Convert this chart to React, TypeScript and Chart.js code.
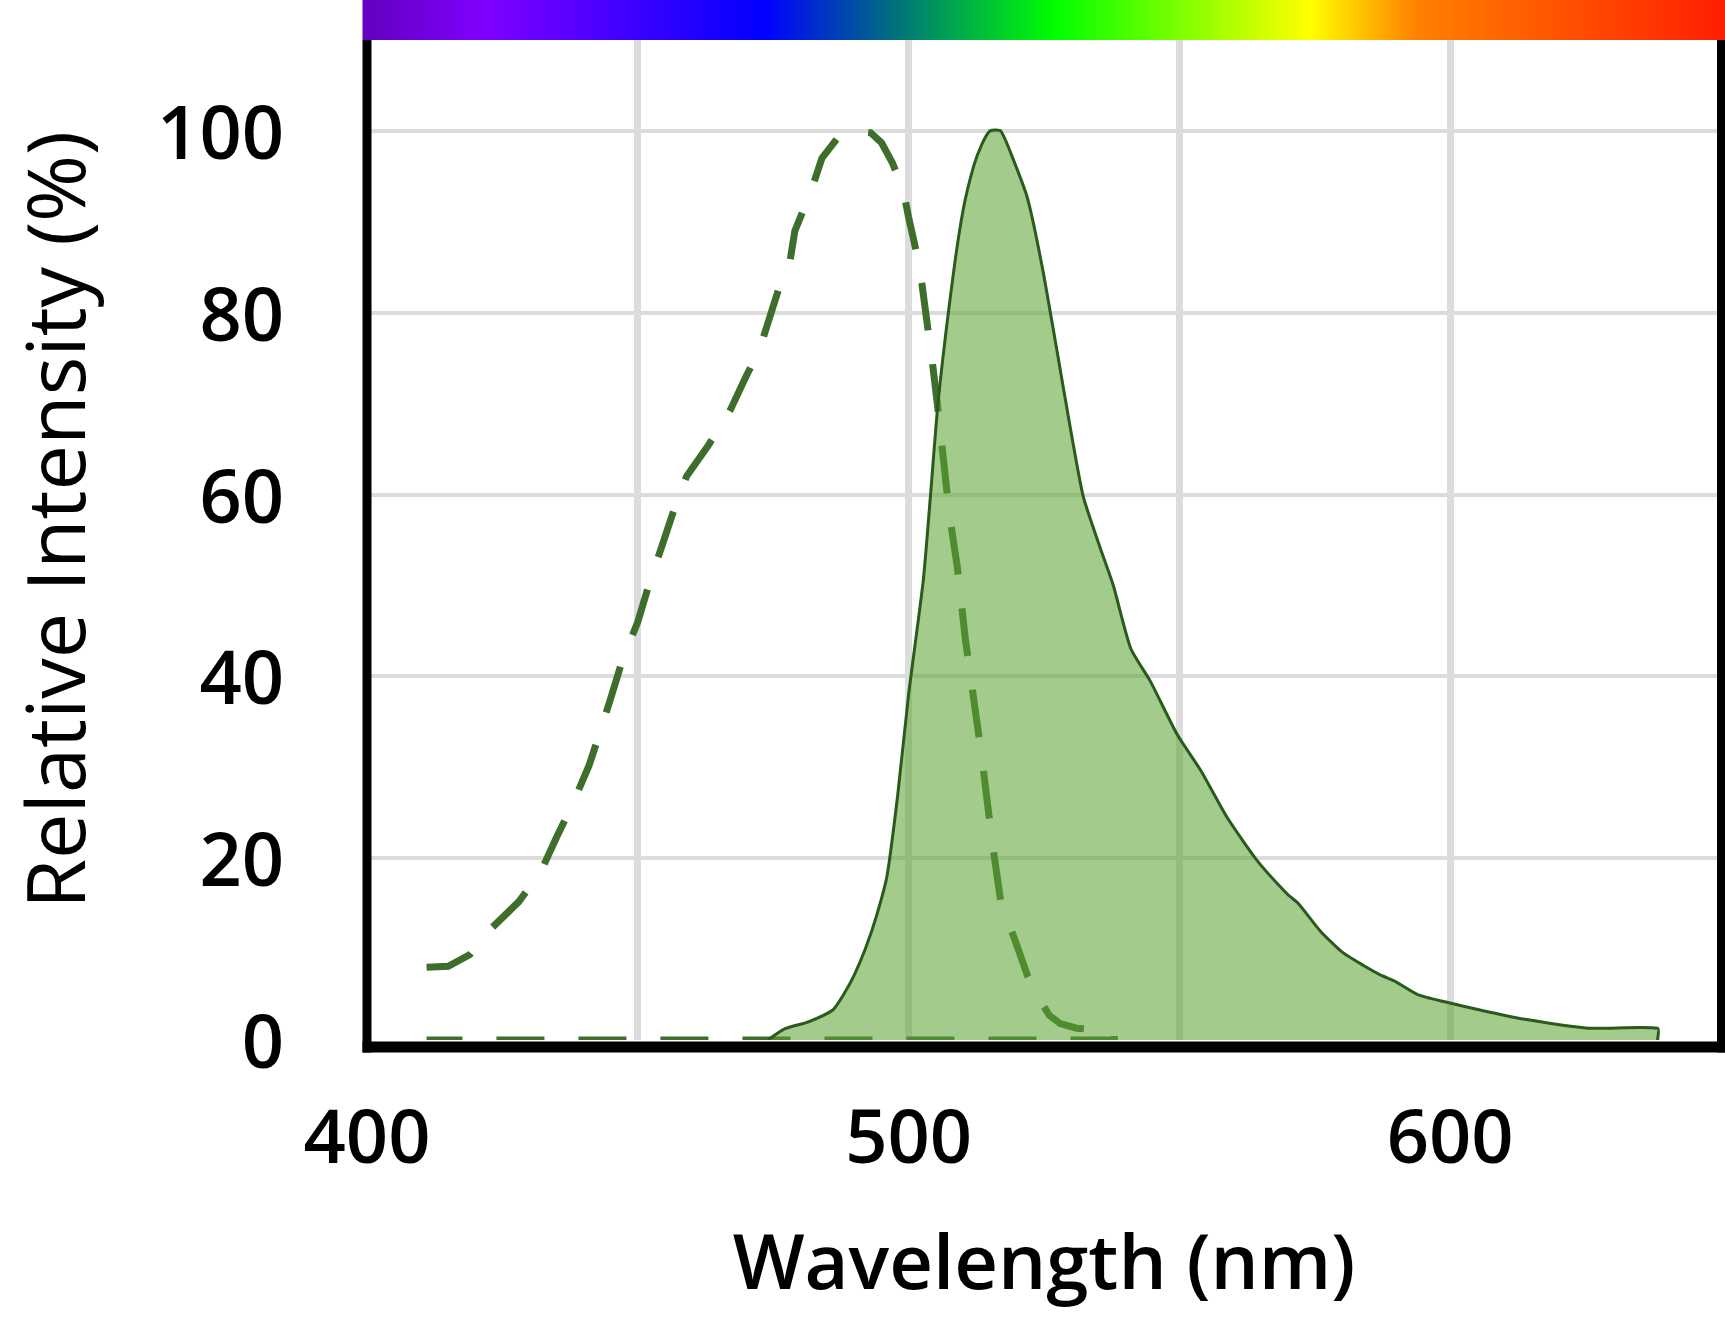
import React, { useEffect, useRef } from "react";
import { Chart, registerables } from "chart.js";

Chart.register(...registerables);

// ---- Data ----
const excitationWavelengths = [411, 415, 419, 423, 428, 432, 435, 438, 441, 443, 445, 447, 450, 452, 454.5, 456.5, 459, 463, 467, 470, 472.5, 476, 478, 479, 482, 484, 487, 490, 493, 495, 497, 499, 500, 501.5, 502.5, 503.5, 504.5, 505.5, 506.5, 507.5, 509, 510.5, 512, 513.5, 515.5, 517, 520, 522, 524, 526, 528, 531, 535, 538, 538, 411];
const excitationIntensity = [8, 8.1, 9.4, 12.3, 15.2, 18.4, 22.3, 26, 30.2, 33.8, 37.6, 41.5, 46, 50, 54.4, 58, 62, 65.4, 69.2, 73, 76, 82.6, 85.3, 89, 93.4, 97, 99.3, 100, 99.8, 98.7, 96.5, 93.5, 90.5, 86.5, 83, 78.5, 74, 69, 63.5, 58, 52, 44, 37.6, 31.2, 21.5, 15.3, 10.4, 7, 4.6, 2.7, 1.8, 1.3, 1.1, 0.8, 0, 0];

const emissionWavelengths = [474, 477, 481.5, 486, 488, 490, 492, 494, 496, 498, 500, 502.7, 504, 505.5, 508.2, 510.1, 512, 513.5, 515, 517, 519.3, 522, 525, 528.7, 532.2, 535.4, 537.8, 541, 544.6, 549.6, 554, 558.8, 564.4, 570, 572, 576, 580, 584, 587, 590, 594, 599, 605.5, 613.5, 625.5, 638.3, 638.3];
const emissionIntensity = [0, 1.2, 2, 3.3, 5, 7.2, 10, 13.5, 18, 27, 38, 50.5, 59.6, 70.5, 84, 91.4, 96.1, 98.5, 100, 100, 96.9, 92.5, 84, 71.3, 59.9, 54.1, 50, 43.1, 39.5, 33.6, 29.6, 24.5, 19.7, 16, 15, 12, 9.7, 8.2, 7.2, 6.4, 5, 4.2, 3.3, 2.3, 1.3, 1.3, 0];

const xTickLabels = [400, 500, 600];
const xGridValues = [400, 450, 500, 550, 600, 650];
const yTickLabels = [0, 20, 40, 60, 80, 100];
const xTitle = "Wavelength (nm)";
const yTitle = "Relative Intensity (%)";

// spectrum colour stops along the wavelength axis (nm, colour)
const spectrumStops: [number, string][] = [
  [400, "#6400c0"],
  [422, "#8000ff"],
  [473.5, "#0000ff"],
  [498, "#00747a"],
  [527, "#00ff00"],
  [574, "#ffff00"],
  [594, "#ff8000"],
  [650, "#ff2000"],
];

const W = 1725;
const H = 1319;

const zeroPadding = (s: any) => {
  s.paddingTop = 0;
  s.paddingBottom = 0;
  s.paddingLeft = 0;
  s.paddingRight = 0;
};

const decorPlugin = {
  id: "decor",
  beforeDraw(chart: any) {
    const { ctx, chartArea } = chart;
    const xs = chart.scales.x;
    const x0 = chartArea.left - 4.5;
    const x1 = W;
    const g = ctx.createLinearGradient(xs.getPixelForValue(400), 0, xs.getPixelForValue(650), 0);
    spectrumStops.forEach(([nm, c]) => g.addColorStop((nm - 400) / 250, c));
    ctx.save();
    ctx.fillStyle = g;
    ctx.fillRect(x0, 0, x1 - x0, chartArea.top);
    ctx.restore();
  },
  afterDraw(chart: any) {
    const { ctx, chartArea } = chart;
    ctx.save();
    ctx.fillStyle = "#000";
    const bottomLineTop = chartArea.bottom + 1.5;
    const bottomLineBot = bottomLineTop + 11;
    ctx.fillRect(chartArea.left - 4.5, chartArea.top, 9, bottomLineBot - chartArea.top);
    ctx.fillRect(chartArea.right - 4, chartArea.top, 8, bottomLineBot - chartArea.top);
    ctx.fillRect(chartArea.left - 4.5, bottomLineTop, W - chartArea.left + 4.5, 11);
    // y title
    ctx.translate(62, 520);
    ctx.rotate(-Math.PI / 2);
    ctx.font = '500 81px "Open Sans"';
    ctx.textAlign = "center";
    ctx.textBaseline = "middle";
    ctx.fillText(yTitle, 0, 0);
    ctx.restore();
  },
};

export default function App() {
  const ref = useRef<HTMLCanvasElement | null>(null);
  useEffect(() => {
    if (!ref.current) return;
    const tickFont = { family: '"Open Sans"', size: 74, weight: "600" as any };
    const chart = new Chart(ref.current, {
      type: "line",
      data: {
        datasets: [
          {
            label: "Emission",
            data: emissionWavelengths.map((x, i) => ({ x, y: emissionIntensity[i] })),
            borderColor: "#2a5a1c",
            borderWidth: 3,
            backgroundColor: "rgba(94,164,53,0.57)",
            fill: "origin",
            pointRadius: 0,
            tension: 0.2,
          },
          {
            label: "Excitation",
            data: excitationWavelengths.map((x, i) => ({ x, y: excitationIntensity[i] })),
            borderColor: "#3d6e2b",
            borderWidth: 7,
            borderDash: [48, 34],
            fill: false,
            pointRadius: 0,
            tension: 0,
          },
        ],
      },
      options: {
        animation: false,
        responsive: false,
        devicePixelRatio: 1,
        layout: { autoPadding: false, padding: { top: 40, right: 4, left: 0, bottom: 0 } },
        plugins: { legend: { display: false }, tooltip: { enabled: false } },
        scales: {
          x: {
            type: "linear",
            min: 400,
            max: 650,
            afterBuildTicks: (s: any) => {
              s.ticks = xGridValues.map((v) => ({ value: v }));
            },
            ticks: {
              autoSkip: false,
              maxRotation: 0,
              padding: 58,
              color: "#000",
              font: tickFont,
              callback: (v: any) => (xTickLabels.includes(Number(v)) ? String(v) : ""),
            },
            grid: {
              color: (c: any) => (c.tick && (c.tick.value === 400 || c.tick.value === 650) ? "rgba(0,0,0,0)" : "#dcdcdc"),
              lineWidth: 7,
              drawTicks: false,
            },
            border: { display: false },
            title: {
              display: true,
              text: xTitle,
              color: "#000",
              font: { family: '"Open Sans"', size: 76, weight: "600" as any },
              padding: { top: 0, bottom: 6 },
            },
            afterFit: (s: any) => {
              s.height = 279;
              zeroPadding(s);
            },
          },
          y: {
            type: "linear",
            min: 0,
            max: 110,
            afterBuildTicks: (s: any) => {
              const t = [];
              for (let v = 0; v <= 110; v += 10) t.push({ value: v });
              s.ticks = t;
            },
            ticks: {
              padding: 83,
              labelOffset: 7,
              color: "#000",
              font: tickFont,
              callback: (v: any) => (yTickLabels.includes(Number(v)) ? String(v) : ""),
            },
            grid: {
              color: (c: any) => (c.tick && (c.tick.value === 110 || c.tick.value === 0) ? "rgba(0,0,0,0)" : "#dcdcdc"),
              lineWidth: 4,
              drawTicks: false,
            },
            border: { display: false },
            afterFit: (s: any) => {
              s.width = 367;
              zeroPadding(s);
            },
          },
        },
      },
      plugins: [decorPlugin],
    });
    return () => chart.destroy();
  }, []);
  return (
    <div style={{ position: "absolute", left: 0, top: 0, width: W, height: H, background: "#fff" }}>
      <canvas ref={ref} width={W} height={H} style={{ width: W, height: H, display: "block" }} />
    </div>
  );
}
